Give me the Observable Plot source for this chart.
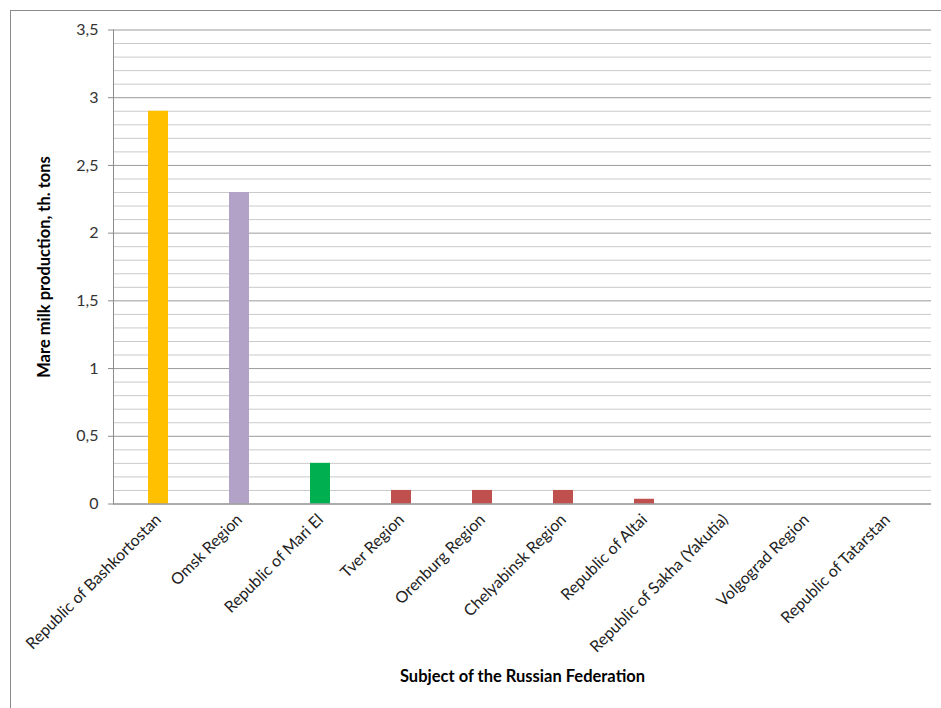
<!DOCTYPE html>
<html>
<head>
<meta charset="utf-8">
<script src="https://cdn.jsdelivr.net/npm/d3@7"></script>
<script src="https://cdn.jsdelivr.net/npm/@observablehq/plot@0.6"></script>
<style>
  html, body { margin: 0; padding: 0; background: #fff; }
  #wrap { position: relative; width: 941px; height: 708px; overflow: hidden; }
  #frame { position: absolute; left: 10px; top: 10px; width: 940px; height: 710px;
           border-top: 1px solid #8a8a8a; border-left: 1px solid #8a8a8a; box-sizing: border-box; pointer-events: none; }
  #chart { position: absolute; left: 0; top: 0; }
</style>
</head>
<body>
<div id="wrap"><div id="chart"></div><div id="frame"></div></div>
<script>
const regions = [
  "Republic of Bashkortostan",
  "Omsk Region",
  "Republic of Mari El",
  "Tver Region",
  "Orenburg Region",
  "Chelyabinsk Region",
  "Republic of Altai",
  "Republic of Sakha (Yakutia)",
  "Volgograd Region",
  "Republic of Tatarstan"
];
const production = [2.9, 2.3, 0.3, 0.1, 0.1, 0.1, 0.035, 0, 0, 0];
const yTicks = [0, 0.5, 1, 1.5, 2, 2.5, 3, 3.5];
const yMinorTicks = [0.1,0.2,0.3,0.4,0.6,0.7,0.8,0.9,1.1,1.2,1.3,1.4,1.6,1.7,1.8,1.9,2.1,2.2,2.3,2.4,2.6,2.7,2.8,2.9,3.1,3.2,3.3,3.4];
const yTitle = "Mare milk production, th. tons";
const xTitle = "Subject of the Russian Federation";

const barColors = ["#FFC000", "#B3A2C7", "#00B050", "#C0504D", "#C0504D", "#C0504D", "#C0504D", "#C0504D", "#C0504D", "#C0504D"];

const data = regions.map((r, i) => ({region: r, value: production[i]}));
const fmt = v => String(v).replace(".", ",");

const plot = Plot.plot({
  width: 941,
  height: 708,
  marginLeft: 113,
  marginRight: 10,
  marginTop: 29.5,
  marginBottom: 204.5,
  style: {fontFamily: "Lato, 'Open Sans', sans-serif", background: "transparent"},
  x: {domain: regions, paddingInner: 0.755, paddingOuter: 0.3775, align: 0.5},
  y: {domain: [0, 3.5]},
  color: {type: "ordinal", domain: regions, range: barColors},
  marks: [
    Plot.ruleY(yMinorTicks, {stroke: "#cacaca", strokeWidth: 1}),
    Plot.ruleY(yTicks, {stroke: "#9a9a9a", strokeWidth: 1}),
    Plot.barY(data, {x: "region", y: "value", fill: "region"}),
    Plot.ruleY([0], {stroke: "#8c8c8c", strokeWidth: 1}),
    Plot.frame({anchor: "left", stroke: "#8c8c8c"}),
    Plot.axisY({ticks: yTicks, tickFormat: fmt, tickSize: 5, tickPadding: 10, stroke: "#8c8c8c", fontSize: 16, color: "#333", label: null}),
    Plot.axisX({tickRotate: -45, tickSize: 0, tickPadding: 13, fontSize: 16, color: "#222", label: null}),
    Plot.text([yTitle], {frameAnchor: "left", textAnchor: "middle", rotate: -90, dx: -69, fontSize: 16.5, fontWeight: "bold", fill: "#000"}),
    Plot.text([xTitle], {frameAnchor: "bottom", dy: 178, fontSize: 16.5, fontWeight: "bold", fill: "#000"})
  ]
});
document.getElementById("chart").appendChild(plot);
</script>
</body>
</html>
